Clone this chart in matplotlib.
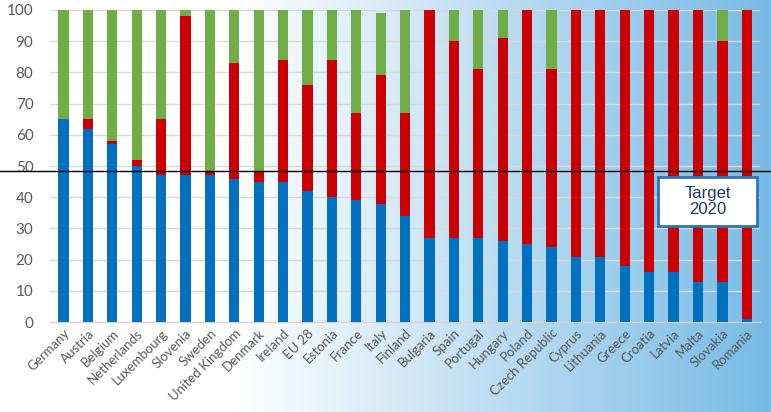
import numpy as np
import matplotlib.pyplot as plt
from matplotlib.patches import Rectangle

countries = ['Germany', 'Austria', 'Belgium', 'Netherlands', 'Luxembourg', 'Slovenia',
             'Sweden', 'United Kingdom', 'Denmark', 'Ireland', 'EU 28', 'Estonia',
             'France', 'Italy', 'Finland', 'Bulgaria', 'Spain', 'Portugal', 'Hungary',
             'Poland', 'Czech Republic', 'Cyprus', 'Lithuania', 'Greece', 'Croatia',
             'Latvia', 'Malta', 'Slovakia', 'Romania']
blue = [65, 62, 57, 50, 47, 47, 47, 46, 45, 45, 42, 40, 39, 38, 34, 27, 27, 27, 26,
        25, 24, 21, 21, 18, 16, 16, 13, 13, 1]
red_top = [65, 65, 58, 52, 65, 98, 48, 83, 48, 84, 76, 84, 67, 79, 67, 100, 90, 81, 91,
           100, 81, 100, 100, 100, 100, 100, 100, 90, 100]
green_top = [100] * 13 + [99] + [100] * 15
target = 48.5

blue = np.array(blue)
red = np.array(red_top) - blue
green = np.array(green_top) - np.array(red_top)

plt.rcParams['font.family'] = ['Lato', 'DejaVu Sans']

fig = plt.figure(figsize=(7.71, 4.12), dpi=100)

# background gradient white -> light blue
bg = fig.add_axes([0, 0, 1, 1], zorder=-10)
t = np.linspace(0, 1, 400)
g = np.clip((t - 0.3) / 0.7, 0, 1)
c0 = np.array([1.0, 1.0, 1.0])
c1 = np.array([0.47, 0.73, 0.90])
img = c0[None, :] * (1 - g[:, None]) + c1[None, :] * g[:, None]
bg.imshow(img[None, :, :], aspect='auto', extent=[0, 1, 0, 1])
bg.axis('off')

ax = fig.add_axes([0.065, 0.218, 0.921, 0.758])
ax.patch.set_alpha(0)
x = np.arange(len(countries))
w = 0.42
ax.bar(x, blue, w, color='#0070C0', zorder=3)
ax.bar(x, red, w, bottom=blue, color='#CC0000', zorder=3)
ax.bar(x, green, w, bottom=red_top, color='#70AD47', zorder=3)

ax.set_xlim(-0.55, 28.55)
ax.set_ylim(0, 100)
ax.set_yticks(range(0, 101, 10))
ax.yaxis.grid(True, color='#D9D9D9', linewidth=1, zorder=0)
for s in ['top', 'right', 'left']:
    ax.spines[s].set_visible(False)
ax.spines['bottom'].set_color('#E0D0C8')
ax.tick_params(axis='both', length=0, colors='#595959')
ax.tick_params(axis='y', labelsize=11, pad=12)
ax.set_xticks(x)
ax.set_xticklabels(countries, rotation=45, ha='right', rotation_mode='anchor', fontsize=9.5)

ax.axhline(target, xmin=-0.08, xmax=1.02, color='black', linewidth=1, clip_on=False, zorder=5)

# Target box
ax.add_patch(Rectangle((24.36, 30.8), 4.05, 15.7, facecolor='white', edgecolor='#2E75B6',
                       linewidth=2, zorder=6))
ax.text(26.4, 38.6, 'Target\n2020', ha='center', va='center', fontsize=12,
        color='#1F3864', family=['Liberation Sans'], linespacing=1.05, zorder=7)

fig.savefig('out.png', dpi=100)
